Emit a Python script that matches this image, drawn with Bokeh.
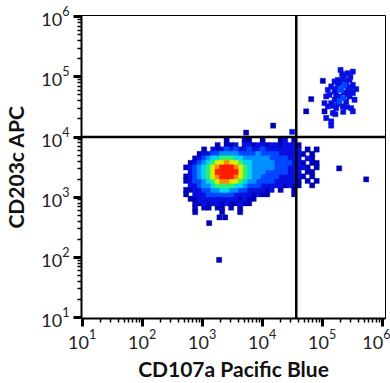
import numpy as np
from bokeh.plotting import figure
from bokeh.models import Span, Range1d, FixedTicker, ColumnDataSource
from bokeh.embed import file_html
from bokeh.resources import INLINE

X_LABEL = "CD107a Pacific Blue"
Y_LABEL = "CD203c APC"
MAJOR_TICKS = [1e1, 1e2, 1e3, 1e4, 1e5, 1e6]
GATE_X = 3.7e4
GATE_Y = 1.0e4

# main population, read as a density-binned grid (log10 units)
GRID_X0 = 2.733
GRID_DX = 0.075
GRID_Y0 = 3.942
GRID_DY = 0.0744
GRID_ROWS = [
    "..... ....1 ...11 ..1.. .12.1",
    "..... ..1.1 12.22 12212 21222 1....",
    "....1 .2123 23223 22322 22222 2.1.1",
    "...12 23344 44333 34333 32222 21.1",
    "..123 45566 65544 44443 33322 2.21.",
    ".1234 56778 77655 44444 33332 21.11",
    "12345 67899 98765 44444 33322 221.1",
    ".2345 67999 99765 44433 33322 2.11",
    "12345 67899 98765 44333 32222 21.1",
    "12334 56788 77654 43333 22222 1.1.1",
    ".2234 45666 65543 33222 22121 1..1",
    "11223 34455 44332 22212 .1..1",
    "1.222 33333 32222 1211. ....1",
    ".1122 22222 22121 1",
    "..112 12212 11211",
    "..1.1 1.11. 1.1",
    "..1.. ...1. ..1",
]

# individual events (log10 x, log10 y, density level)
EVENT_LOGX = [5.306, 5.511, 5.428, 5.011, 5.206, 5.344, 5.456, 5.150, 5.261, 5.372,
              5.511, 5.567, 5.094, 5.206, 5.317, 5.428, 5.511, 5.067, 5.233, 5.344,
              5.456, 4.817, 5.039, 5.150, 5.289, 5.400, 5.539, 5.094, 5.233, 5.344,
              5.483, 5.511, 5.039, 5.178, 4.733, 5.067, 5.150, 5.150,
              5.26, 5.40, 5.30, 5.45, 5.27, 5.35, 5.42, 5.21, 5.12, 5.47, 5.37,
              5.30, 5.36, 5.24, 5.48, 5.41, 5.29, 5.18, 5.33, 5.22, 5.40,
              3.733, 4.183, 4.500,
              3.283, 5.283, 5.733, 3.289, 3.383, 3.117]
EVENT_LOGY = [5.116, 5.088, 5.061, 4.934, 4.923, 4.962, 4.950, 4.840, 4.868, 4.868,
              4.868, 4.797, 4.785, 4.757, 4.785, 4.757, 4.730, 4.675, 4.702, 4.647,
              4.675, 4.631, 4.565, 4.565, 4.592, 4.592, 4.620, 4.510, 4.482, 4.510,
              4.482, 4.427, 4.427, 4.400, 4.427, 4.317, 4.262, 4.190,
              4.95, 4.93, 4.80, 4.83, 4.55, 4.42, 4.70, 4.62, 4.70, 5.00, 5.03,
              4.90, 4.74, 4.80, 4.79, 4.50, 4.67, 4.52, 5.05, 4.38, 4.85,
              4.074, 4.190, 4.085,
              1.959, 3.479, 3.298, 2.665, 2.665, 2.570]
EVENT_LEVEL = [2, 2, 2, 1, 2, 2, 2, 2, 2, 3,
               2, 2, 2, 2, 3, 2, 2, 2, 2, 3,
               2, 1, 2, 2, 3, 2, 2, 2, 2, 2,
               2, 2, 1, 2, 1, 2, 2, 2,
               2, 2, 3, 2, 2, 2, 2, 2, 2, 2, 2,
               2, 2, 2, 2, 2, 2, 2, 2, 2, 2,
               1, 1, 2,
               1, 1, 1, 1, 1, 1]

PALETTE = {1: "#0000b4", 2: "#0810e0", 3: "#0048ff", 4: "#0090ff", 5: "#00d8f0",
           6: "#30f070", 7: "#d8f000", 8: "#ff8c00", 9: "#ff1e00"}

FONT = "Lato"

# assemble events
xs, ys, lv = [], [], []
for r, row in enumerate(GRID_ROWS):
    for c, ch in enumerate(row.replace(" ", "")):
        if ch != ".":
            xs.append(10 ** (GRID_X0 + c * GRID_DX))
            ys.append(10 ** (GRID_Y0 - r * GRID_DY))
            lv.append(int(ch))
for lx, ly, l in zip(EVENT_LOGX, EVENT_LOGY, EVENT_LEVEL):
    xs.append(10 ** lx)
    ys.append(10 ** ly)
    lv.append(l)
order = np.argsort(lv, kind="stable")
xs = [xs[i] for i in order]
ys = [ys[i] for i in order]
cols = [PALETTE[lv[i]] for i in order]
src = ColumnDataSource(dict(x=xs, y=ys, c=cols))

p = figure(width=390, height=383, x_axis_type="log", y_axis_type="log",
           x_range=Range1d(10 ** 0.99, 10 ** 6.055), y_range=Range1d(10 ** 0.985, 10 ** 6.02),
           output_backend="svg", toolbar_location=None,
           min_border_left=80, min_border_right=5, min_border_top=15, min_border_bottom=64)
p.grid.visible = False
p.outline_line_color = "black"
p.outline_line_width = 1
p.background_fill_color = "white"
p.border_fill_color = "white"

p.scatter("x", "y", source=src, marker="square", size=5.3,
          fill_color="c", line_color="c", line_width=0.3)

p.add_layout(Span(location=GATE_Y, dimension="width", line_color="black", line_width=2.5))
p.add_layout(Span(location=GATE_X, dimension="height", line_color="black", line_width=2.5))

minor = [m * t for t in [1, 10, 100, 1e3, 1e4, 1e5] for m in range(2, 10)]
for ax in (p.xaxis[0], p.yaxis[0]):
    ax.ticker = FixedTicker(ticks=MAJOR_TICKS, minor_ticks=minor)
    ax.axis_line_color = "black"
    ax.axis_line_width = 2
    ax.major_tick_line_width = 3
    ax.major_tick_line_color = "black"
    ax.major_tick_out = 8
    ax.major_tick_in = 0
    ax.minor_tick_line_width = 1.5
    ax.minor_tick_line_color = "black"
    ax.minor_tick_out = 4
    ax.minor_tick_in = 0
    ax.major_label_text_font = FONT
    ax.major_label_text_font_size = "18px"
    ax.major_label_text_color = "#222222"
    ax.axis_label_text_font = FONT
    ax.axis_label_text_font_style = "bold"
    ax.axis_label_text_font_size = "21px"
    ax.axis_label_text_color = "#111111"

p.xaxis.axis_label = X_LABEL
p.yaxis.axis_label = Y_LABEL
p.xaxis.major_label_standoff = 3
p.yaxis.major_label_standoff = 4
p.xaxis.axis_label_standoff = 4
p.yaxis.axis_label_standoff = 10

open("out.html", "w").write(file_html(p, INLINE))
